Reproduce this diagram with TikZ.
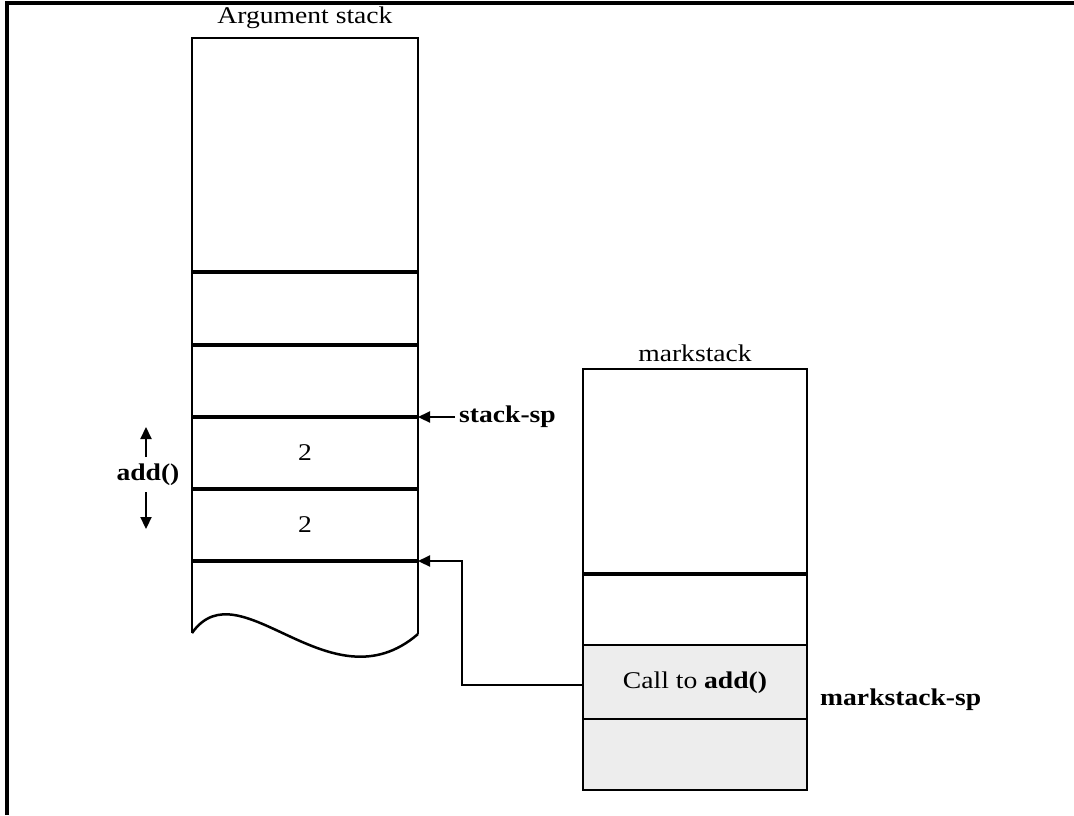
\documentclass[tikz,border=0pt]{standalone}
\usepackage{fontspec}
\setmainfont{Liberation Serif}[FakeStretch=1.15]
\usetikzlibrary{arrows.meta}
\begin{document}
\begin{tikzpicture}[x=1pt,y=-1pt,
  outline/.style={line width=2.5pt},
  divider/.style={line width=3.6pt},
  thin/.style={line width=2.2pt},
  lbl/.style={inner sep=0pt,font=\fontsize{24}{28}\selectfont},
  blbl/.style={inner sep=0pt,font=\fontsize{24}{28}\selectfont\bfseries},
  tip/.style={-{Triangle[length=12pt,width=11pt]}},
  arr/.style={line width=2.2pt,tip}]
\useasboundingbox (0,0) rectangle (1074,815);
% frame
\draw[line width=3.5pt] (7,815) -- (7,3) -- (1074,3);
% Argument stack
\node[lbl] (argt) at (305,18) {Argument stack};
\draw[outline] (192,633) -- (192,38) -- (418,38) -- (418,634);
\draw[outline] (192,633) .. controls (240,565) and (330,710) .. (418,634);
\foreach \y/\n in {272/a1,345/a2,417/a3,489/a4,561/a5}{
  \draw[divider] (192,\y) coordinate (\n l) -- (418,\y) coordinate (\n r);
}
\node[lbl] (two1) at (305,453) {2};
\node[lbl] (two2) at (305,525) {2};
% stack-sp
\node[blbl,anchor=west] (ssp) at (459,417) {stack-sp};
\draw[arr] (ssp.west) ++(-4,0) coordinate (sspa) -- (a3r);
% add()
\node[blbl] (add) at (148,475) {add()};
\coordinate (addup) at (146,427);
\coordinate (adddn) at (146,529);
\draw[arr] (146,457) -- (addup);
\draw[arr] (146,492) -- (adddn);
% markstack
\node[lbl] (mt) at (695,353) {markstack};
\fill[black!7] (583,645) rectangle (807,790);
\draw[outline] (583,369) rectangle (807,790);
\draw[divider] (583,574) -- (807,574);
\draw[thin] (583,645) -- (807,645);
\draw[thin] (583,719) -- (807,719);
\node (call) at (695,683) [lbl] {Call to \textbf{add()}};
\coordinate (callw) at (583,685);
\node[blbl,anchor=west] (msp) at (820,700) {markstack-sp};
\draw[arr] (callw) -- (462,685) -- (462,561) -- (a5r);
\end{tikzpicture}
\end{document}
